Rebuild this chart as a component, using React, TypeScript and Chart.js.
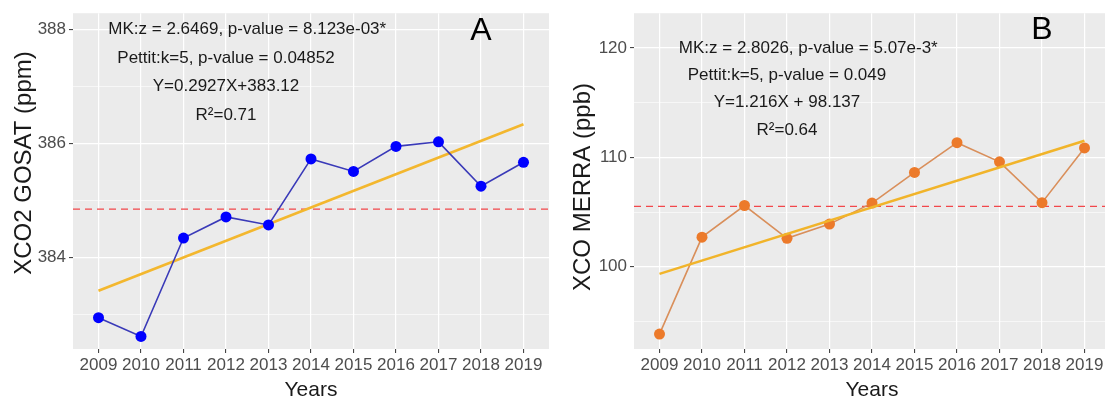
import React, { useEffect, useRef } from "react";
import { Chart, registerables } from "chart.js";

Chart.register(...registerables);

// Annual means, 2009–2019
const years = [2009, 2010, 2011, 2012, 2013, 2014, 2015, 2016, 2017, 2018, 2019];
const xco2Gosat = [382.94, 382.61, 384.34, 384.71, 384.57, 385.73, 385.51, 385.95, 386.03, 385.25, 385.67];
const xcoMerra = [93.85, 102.71, 105.6, 102.6, 103.9, 105.82, 108.62, 111.34, 109.59, 105.86, 110.86];

// Linear fits, X = 1..11 for 2009..2019
const gosatFit = { slope: 0.2927, intercept: 383.12 };
const merraFit = { slope: 1.216, intercept: 98.137 };

// Axis ticks (major ones are labelled, minor ones only get a thin grid line)
const gosatTicks = [383, 384, 385, 386, 387, 388];
const gosatMajor = [384, 386, 388];
const merraTicks = [95, 100, 105, 110, 115, 120];
const merraMajor = [100, 110, 120];

// Trend-test summaries printed inside each panel
const gosatStats = [
  "MK:z = 2.6469, p-value = 8.123e-03*",
  "Pettit:k=5, p-value = 0.04852",
  "Y=0.2927X+383.12",
  "R\u00B2=0.71",
];
const merraStats = [
  "MK:z = 2.8026, p-value = 5.07e-3*",
  "Pettit:k=5, p-value = 0.049",
  "Y=1.216X + 98.137",
  "R\u00B2=0.64",
];

const FONT = "'Liberation Sans', Arial, Helvetica, sans-serif";
const CANVAS_W = 560;
const CANVAS_H = 401;

interface PanelSpec {
  left: number;
  letter: string;
  letterPos: { x: number; y: number };
  values: number[];
  fit: { slope: number; intercept: number };
  yMin: number;
  yMax: number;
  yTicks: number[];
  yMajor: number[];
  yTitle: string;
  yTitleCenterY: number;
  yTitleBaseX: number;
  stats: string[];
  statsX: number[];
  statsY: number[];
  lineColor: string;
  pointColor: string;
  fitColor: string;
  fitOnTop: boolean;
}

const panels: PanelSpec[] = [
  {
    left: 0,
    letter: "A",
    letterPos: { x: 2018, y: 387.98 },
    values: xco2Gosat,
    fit: gosatFit,
    yMin: 382.39,
    yMax: 388.29,
    yTicks: gosatTicks,
    yMajor: gosatMajor,
    yTitle: "XCO2 GOSAT (ppm)",
    yTitleCenterY: 163,
    yTitleBaseX: 31,
    stats: gosatStats,
    statsX: [2012.5, 2012, 2012, 2012],
    statsY: [388, 387.5, 387, 386.5],
    lineColor: "#3A3AB8",
    pointColor: "#0000FF",
    fitColor: "#F3B72E",
    fitOnTop: false,
  },
  {
    left: 561,
    letter: "B",
    letterPos: { x: 2018, y: 121.6 },
    values: xcoMerra,
    fit: merraFit,
    yMin: 92.49,
    yMax: 123.17,
    yTicks: merraTicks,
    yMajor: merraMajor,
    yTitle: "XCO MERRA (ppb)",
    yTitleCenterY: 187,
    yTitleBaseX: 29,
    stats: merraStats,
    statsX: [2012.5, 2012, 2012, 2012],
    statsY: [120, 117.5, 115, 112.5],
    lineColor: "#D98F5B",
    pointColor: "#EC7A2A",
    fitColor: "#F1B42A",
    fitOnTop: true,
  },
];

function Panel({ spec }: { spec: PanelSpec }) {
  const ref = useRef<HTMLCanvasElement>(null);

  useEffect(() => {
    const canvas = ref.current;
    if (!canvas) return;
    const n = years.length;
    const mean = spec.values.reduce((s, v) => s + v, 0) / spec.values.length;
    const fitAt = (k: number) => spec.fit.intercept + spec.fit.slope * k;
    const isMajor = (v: number | undefined) => v !== undefined && spec.yMajor.includes(v);

    const decor = {
      id: "panelDecor",
      beforeDraw(chart: any) {
        const { ctx, chartArea: a } = chart;
        ctx.save();
        ctx.fillStyle = "#EBEBEB";
        ctx.fillRect(a.left, a.top, a.right - a.left, a.bottom - a.top);
        ctx.restore();
      },
      beforeDatasetsDraw(chart: any) {
        // dashed line at the series mean
        const { ctx, chartArea: a } = chart;
        const y = chart.scales.y.getPixelForValue(mean);
        ctx.save();
        ctx.beginPath();
        ctx.rect(a.left, a.top, a.right - a.left, a.bottom - a.top);
        ctx.clip();
        ctx.setLineDash([7, 5]);
        ctx.strokeStyle = "#F2474B";
        ctx.lineWidth = 1.2;
        ctx.beginPath();
        ctx.moveTo(a.left, y);
        ctx.lineTo(a.right, y);
        ctx.stroke();
        ctx.restore();
      },
      afterDraw(chart: any) {
        const { ctx, chartArea: a } = chart;
        const xs = chart.scales.x;
        const ys = chart.scales.y;
        ctx.save();
        // statistics block
        ctx.fillStyle = "#1A1A1A";
        ctx.font = `17px ${FONT}`;
        ctx.textAlign = "center";
        ctx.textBaseline = "middle";
        spec.stats.forEach((t, i) => {
          ctx.fillText(t, xs.getPixelForValue(spec.statsX[i]), ys.getPixelForValue(spec.statsY[i]));
        });
        // panel letter
        ctx.fillStyle = "#000000";
        ctx.font = `32px ${FONT}`;
        ctx.fillText(
          spec.letter,
          xs.getPixelForValue(spec.letterPos.x),
          ys.getPixelForValue(spec.letterPos.y)
        );
        // x axis title
        ctx.fillStyle = "#1A1A1A";
        ctx.font = `21px ${FONT}`;
        ctx.textBaseline = "alphabetic";
        ctx.fillText("Years", (a.left + a.right) / 2, 396);
        // y axis title
        ctx.font = `24px ${FONT}`;
        ctx.translate(spec.yTitleBaseX, spec.yTitleCenterY);
        ctx.rotate(-Math.PI / 2);
        ctx.fillText(spec.yTitle, 0, 0);
        ctx.restore();
      },
    };

    const tickFont = { family: FONT, size: 17 };

    const chart = new Chart(canvas, {
      type: "line",
      data: {
        datasets: [
          {
            label: spec.yTitle,
            data: years.map((x, i) => ({ x, y: spec.values[i] })),
            borderColor: spec.lineColor,
            borderWidth: 1.6,
            pointRadius: 5.5,
            pointBackgroundColor: spec.pointColor,
            pointBorderColor: spec.pointColor,
            pointBorderWidth: 0,
            tension: 0,
            order: 1,
          },
          {
            label: "trend",
            data: [
              { x: years[0], y: fitAt(1) },
              { x: years[n - 1], y: fitAt(n) },
            ],
            borderColor: spec.fitColor,
            borderWidth: 2.6,
            pointRadius: 0,
            tension: 0,
            order: spec.fitOnTop ? 0 : 2,
          },
        ],
      },
      options: {
        responsive: false,
        maintainAspectRatio: false,
        animation: false,
        devicePixelRatio: 1,
        layout: { padding: { left: 0, right: 11, top: 10, bottom: 0 } },
        plugins: {
          legend: { display: false },
          tooltip: { enabled: false },
        },
        scales: {
          x: {
            type: "linear",
            min: 2008.4,
            max: 2019.6,
            afterBuildTicks: (s: any) => {
              s.ticks = years.map((v) => ({ value: v }));
            },
            afterFit: (s: any) => {
              s.height = 52;
            },
            border: { display: false },
            grid: {
              color: "#FFFFFF",
              lineWidth: 1.2,
              drawTicks: true,
              tickLength: 4,
              tickWidth: 1,
              tickColor: "#333333",
            },
            ticks: {
              color: "#4D4D4D",
              font: tickFont,
              padding: 2,
              autoSkip: false,
              maxRotation: 0,
              callback: (v: any) => String(v),
            },
          },
          y: {
            type: "linear",
            min: spec.yMin,
            max: spec.yMax,
            afterBuildTicks: (s: any) => {
              s.ticks = spec.yTicks.map((v) => ({ value: v }));
            },
            afterFit: (s: any) => {
              s.width = 73;
            },
            border: { display: false },
            grid: {
              color: "#FFFFFF",
              lineWidth: (c: any) => (isMajor(c.tick?.value) ? 1.2 : 0.6),
              drawTicks: true,
              tickLength: 4,
              tickWidth: 1,
              tickColor: (c: any) => (isMajor(c.tick?.value) ? "#333333" : "rgba(0,0,0,0)"),
            },
            ticks: {
              color: "#4D4D4D",
              font: tickFont,
              padding: 3,
              callback: (v: any) => (isMajor(Number(v)) ? String(v) : ""),
            },
          },
        },
      },
      plugins: [decor],
    } as any);

    return () => chart.destroy();
  }, [spec]);

  return (
    <canvas
      ref={ref}
      width={CANVAS_W}
      height={CANVAS_H}
      style={{ position: "absolute", left: spec.left, top: 0, display: "block" }}
    />
  );
}

export default function App() {
  return (
    <div
      style={{
        position: "fixed",
        left: 0,
        top: 0,
        width: 1105,
        height: 401,
        overflow: "hidden",
        background: "#FFFFFF",
      }}
    >
      {panels.map((p) => (
        <Panel key={p.letter} spec={p} />
      ))}
    </div>
  );
}
